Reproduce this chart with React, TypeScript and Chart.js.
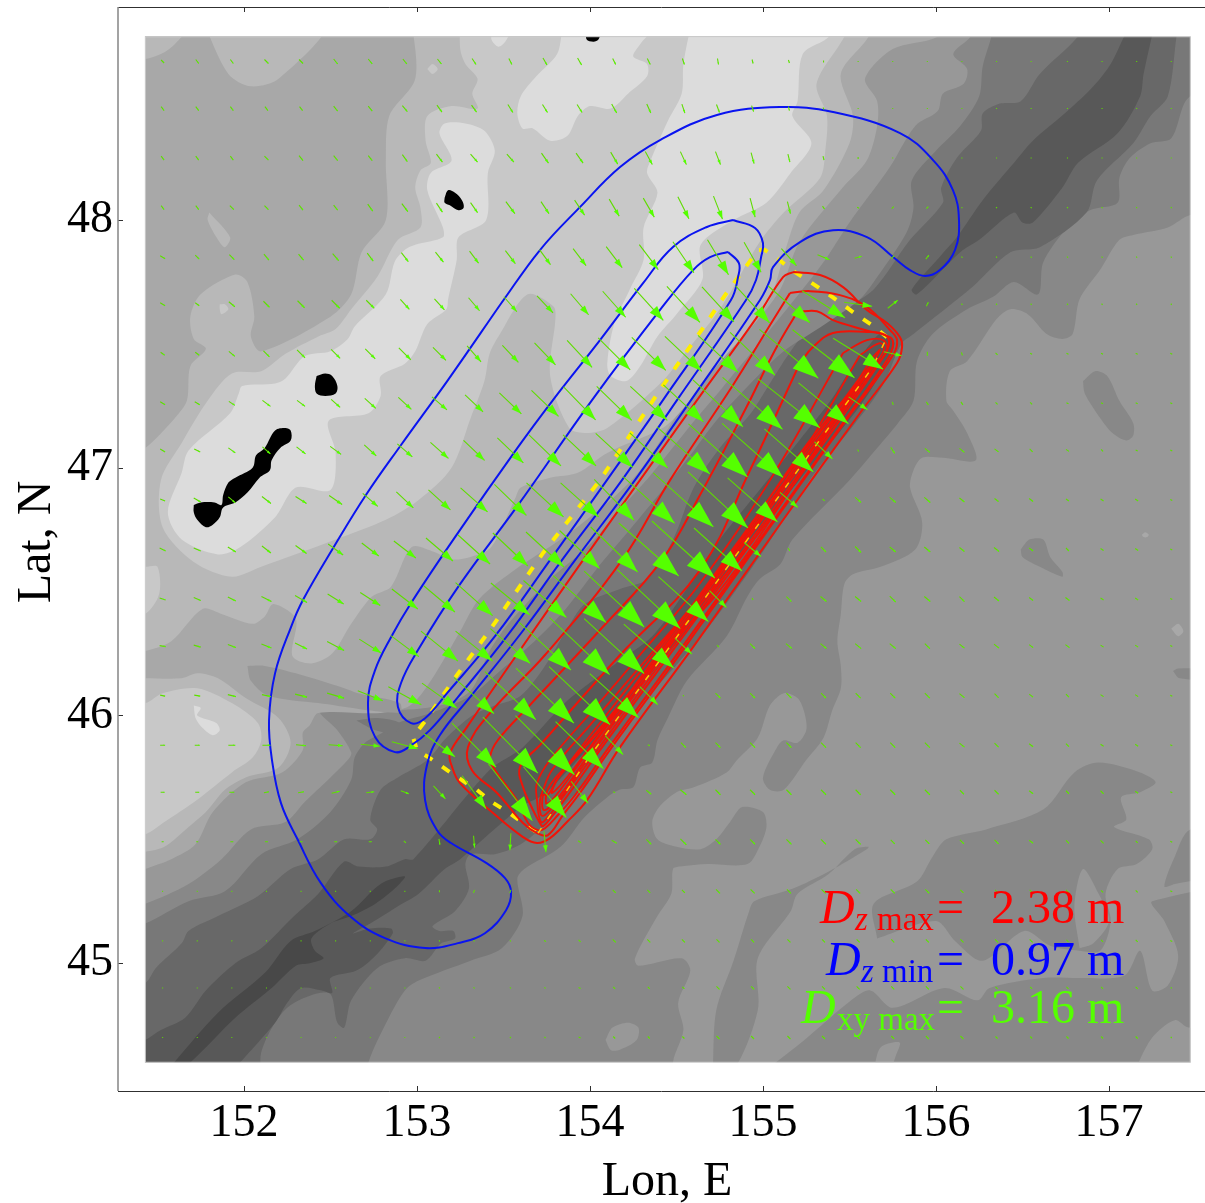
import React, { useEffect, useRef } from "react";
import { Chart, registerables } from "chart.js";

Chart.register(...registerables);

// ---------- axes ----------
const LON_MIN = 151.272, LON_MAX = 157.555, LAT_MIN = 44.484, LAT_MAX = 48.86;
const MAP_W = 151.43, MAP_E = 157.47, MAP_S = 44.6, MAP_N = 48.74;
const FAR_W = 149.5, FAR_E = 158.5, FAR_S = 43.5, FAR_N = 50;
const SERIF = '"Liberation Serif"';

// ---------- bathymetry bands, outline lists of lon,lat ----------
const greys = { L0: "#484848", L1: "#585858", L2: "#686868", L3: "#787878", L4: "#888888", L5: "#989898", L6: "#a8a8a8", L7: "#b8b8b8", L8: "#c8c8c8", L9: "#dcdcdc" };
const HULL_SE = [FAR_W, FAR_S, FAR_W, FAR_N, FAR_E, FAR_N];

const front4 = [157.87,48.06,157.47,48.02,157.34,47.97,157.14,47.94,157.06,47.92,156.95,47.80,156.83,47.68,156.79,47.54,156.73,47.52,156.64,47.54,156.53,47.62,156.43,47.64,156.35,47.60,156.18,47.43,156.08,47.39,156.06,47.27,156.10,47.23,156.18,47.14,156.23,47.03,156.04,47.04,155.92,47.04,155.87,46.99,155.85,46.92,155.92,46.78,155.88,46.67,155.68,46.60,155.52,46.57,155.47,46.53,155.45,46.41,155.43,46.30,155.45,46.20,155.45,46.11,155.40,46.02,155.35,45.91,155.25,45.82,155.12,45.70,155.04,45.70,155.00,45.75,155.08,45.87,155.12,45.90,155.20,45.89,155.25,45.94,155.24,46.01,155.20,46.07,155.12,46.09,155.04,46.04,154.97,45.91,154.85,45.82,154.79,45.77,154.60,45.71,154.50,45.69,154.40,45.63,154.36,45.57,154.39,45.50,154.50,45.47,154.64,45.46,154.73,45.50,154.81,45.57,154.88,45.63,155.00,45.61,155.02,45.55,154.98,45.47,154.91,45.40,154.68,45.40,154.52,45.39,154.48,45.38,154.47,45.28,154.39,45.19,154.26,45.02,154.28,44.99,154.53,45.02,154.58,44.97,154.51,44.84,154.54,44.73,154.48,44.60,154.48,44.41];
const band4 = [154.71,44.57,154.73,44.81,154.83,45.01,154.92,45.21,154.95,45.25,155.17,45.30,155.38,45.37,155.60,45.46,155.61,45.47,155.53,45.46,155.38,45.36,155.20,45.28,155.16,45.21,154.97,45.02,154.97,44.81,154.83,44.57];
const upper4 = [155.66,45.10,155.64,45.24,155.89,45.33,155.98,45.43,156.06,45.50,156.29,45.54,156.62,45.62,156.80,45.77,156.94,45.81,157.18,45.77,157.27,45.73,157.18,45.69,157.07,45.67,157.10,45.58,157.03,45.55,157.23,45.50,157.25,45.46,157.16,45.40,157.05,45.38,156.98,45.28,157.01,45.17,156.95,45.05,156.83,45.05,156.66,45.07,156.51,45.13,156.27,45.01,156.11,45.09,156.00,45.17];
const lower4 = [155.02,44.57,155.24,44.69,155.51,44.85,155.62,44.89,155.75,44.82,156.05,44.90,156.24,44.85,156.31,44.90,156.62,44.94,156.85,44.94,157.09,44.95,157.18,45.05,157.25,44.89,157.34,44.91,157.40,45.03,157.32,45.17,157.25,45.25,157.87,45.27,157.87,44.41];
const edge4 = [157.87,45.58,157.47,45.54,157.38,45.43,157.32,45.31,157.38,45.32,157.87,45.40];
const spot4a = [156.85,47.35,156.86,47.30,156.95,47.20,157.02,47.14,157.10,47.11,157.14,47.13,157.14,47.18,157.06,47.27,156.99,47.37,156.92,47.39];
const spot4b = [156.49,46.67,156.54,46.71,156.62,46.71,156.66,46.64,156.73,46.58,156.73,46.56,156.60,46.60,156.50,46.64];
const spot4c = [157.37,46.18,157.40,46.19,157.87,46.18,157.87,46.13,157.41,46.15];
const spots5 = [
  [154.09,44.69,154.13,44.74,154.22,44.76,154.28,44.74,154.27,44.69,154.17,44.65,154.12,44.65],
  [156.83,45.06,156.80,45.23,156.85,45.38,156.94,45.28,157.00,45.17,156.91,45.08],
  [155.64,44.57,155.68,44.66,155.79,44.68,155.77,44.63,155.73,44.57],
  [157.15,44.57,157.25,44.70,157.38,44.77,157.46,44.74,157.87,44.74,157.87,44.57],
];
const spots6 = [
  [157.19,46.73,157.21,46.74,157.23,46.73,157.22,46.72,157.20,46.72],
  [157.36,46.35,157.40,46.37,157.43,46.34,157.40,46.32],
];
const front3 = [157.87,48.54,157.47,48.50,157.36,48.33,157.24,48.31,157.12,48.25,157.06,48.17,157.05,48.07,156.89,48.04,156.76,47.97,156.62,47.83,156.59,47.70,156.45,47.75,156.33,47.69,156.18,47.64,155.98,47.54,155.89,47.43,155.87,47.27,155.78,47.18,155.66,47.08,155.50,46.95,155.17,46.71,155.10,46.61,154.98,46.55,154.91,46.48,154.79,46.32,154.56,46.14,154.45,45.99,154.39,45.90,154.36,45.81,154.29,45.79,154.25,45.71,154.17,45.70,154.10,45.67,153.97,45.59,153.83,45.47,153.62,45.38,153.58,45.34,153.61,45.19,153.49,45.06,153.31,45.01,153.01,44.93,152.93,44.89,152.83,44.77,152.72,44.60,152.67,44.41];
const front2 = [157.44,48.97,157.39,48.74,157.34,48.50,157.24,48.42,157.14,48.31,156.93,48.16,156.87,48.03,156.60,47.89,156.43,47.87,156.21,47.73,155.87,47.54,155.80,47.50,155.69,47.33,155.50,47.15,155.31,46.99,155.16,46.83,154.93,46.59,154.69,46.36,154.52,46.22,154.29,46.04,154.12,45.88,154.00,45.74,153.88,45.66,153.74,45.56,153.60,45.48,153.45,45.44,153.31,45.44,153.28,45.40,153.30,45.30,153.22,45.21,153.09,45.15,153.13,45.13,153.21,45.13,153.22,45.10,153.14,45.08,153.05,45.01,152.93,45.02,152.77,44.98,152.62,44.85,152.58,44.74,152.54,44.76,152.49,44.88,152.25,44.82,152.10,44.64,152.08,44.41];
const trough1 = [151.94,44.57,152.18,44.76,152.25,44.84,152.33,44.90,152.45,44.89,152.51,44.88,152.50,44.94,152.65,44.97,152.76,45.03,152.86,45.12,152.85,45.14,152.73,45.14,152.63,45.12,152.73,45.16,152.89,45.23,153.01,45.28,153.16,45.38,153.25,45.42,153.60,45.63,153.75,45.69,154.13,45.98,154.39,46.20,154.58,46.36,154.75,46.53,154.98,46.75,155.21,46.95,155.45,47.15,155.62,47.31,155.76,47.50,155.68,47.54,155.62,47.50,155.50,47.39,155.39,47.27,155.21,47.11,154.98,46.91,154.75,46.71,154.52,46.47,154.36,46.32,154.13,46.20,153.87,46.06,153.61,45.87,153.42,45.78,152.98,45.42,152.93,45.42,152.82,45.39,152.66,45.39,152.58,45.41,152.43,45.28,152.29,45.19,152.10,45.06,151.95,45.00,151.78,44.89,151.66,44.78,151.52,44.73,151.43,44.69,151.28,44.65,151.28,44.57];
const stripe1 = [157.27,48.81,157.20,48.59,157.18,48.50,157.05,48.35,156.82,48.23,156.73,48.13,156.56,47.99,156.50,47.99,156.45,48.03,156.25,47.92,156.14,47.87,155.89,47.70,155.86,47.72,156.02,47.85,156.12,47.93,156.27,48.08,156.45,48.23,156.56,48.32,156.76,48.44,156.91,48.54,157.01,48.63,157.15,48.81];
const trough0 = [151.56,44.57,151.85,44.80,152.12,44.96,152.27,45.09,152.41,45.13,152.62,45.21,152.79,45.32,152.93,45.35,152.87,45.30,152.76,45.24,152.62,45.19,152.50,45.16,152.39,45.10,152.41,45.05,152.46,45.02,152.38,45.00,152.30,44.99,152.16,44.90,151.95,44.78,151.64,44.57];
const slope3 = [151.28,44.89,151.43,44.92,151.49,44.98,151.64,45.08,151.68,45.13,151.85,45.19,152.08,45.27,152.27,45.38,152.43,45.42,152.58,45.50,152.73,45.50,152.77,45.54,152.73,45.58,152.79,45.70,152.89,45.75,153.06,45.82,153.17,45.91,153.32,46.00,153.45,46.04,153.60,46.08,153.74,46.20,153.86,46.34,153.97,46.45,154.17,46.51,154.33,46.55,154.48,46.71,154.60,46.92,154.75,47.08,154.93,47.22,155.04,47.34,155.17,47.48,155.29,47.58,155.46,47.64,155.64,47.72,155.85,47.92,156.04,48.07,156.03,48.13,156.12,48.25,156.26,48.36,156.27,48.43,156.37,48.47,156.49,48.48,156.60,48.59,156.82,48.74,156.86,48.81,156.86,FAR_N,FAR_W,FAR_N,FAR_W,44.89];
const slope4 = [151.28,45.13,151.43,45.16,151.68,45.25,151.89,45.29,152.10,45.44,152.31,45.50,152.50,45.61,152.62,45.74,152.64,45.83,152.70,45.89,152.80,45.93,152.89,45.97,153.08,46.01,153.31,46.08,153.48,46.18,153.68,46.30,153.86,46.43,154.06,46.61,154.23,46.75,154.42,46.91,154.58,47.05,154.73,47.19,154.97,47.37,155.12,47.47,155.36,47.58,155.56,47.68,155.65,47.76,155.83,47.95,155.87,48.05,155.86,48.16,156.00,48.28,156.14,48.38,156.25,48.50,156.27,48.62,156.32,48.74,156.34,48.81,156.34,FAR_N,FAR_W,FAR_N,FAR_W,45.13];
const slope5 = [151.28,45.21,151.43,45.24,151.68,45.32,151.87,45.42,152.04,45.54,152.24,45.57,152.35,45.65,152.50,45.75,152.60,45.82,152.62,45.85,152.54,45.94,152.43,46.02,152.47,46.05,152.66,46.03,152.84,46.02,153.13,46.04,153.31,46.10,153.42,46.26,153.54,46.38,153.77,46.55,154.00,46.69,154.17,46.83,154.35,46.97,154.58,47.17,154.75,47.31,154.95,47.48,155.16,47.66,155.36,47.84,155.50,47.99,155.73,48.21,155.88,48.38,156.01,48.44,156.04,48.51,156.16,48.55,156.18,48.61,156.10,48.67,156.20,48.74,156.25,48.81,156.25,FAR_N,FAR_W,FAR_N,FAR_W,45.21];
const slope6 = [151.28,45.33,151.43,45.38,151.58,45.42,151.72,45.48,151.82,45.61,152.01,45.73,152.22,45.77,152.34,45.86,152.34,45.93,152.38,45.96,152.43,46.01,152.79,46.01,152.96,46.04,153.08,46.14,153.25,46.34,153.36,46.47,153.57,46.59,153.83,46.71,154.12,46.87,154.29,46.99,154.52,47.23,154.69,47.39,154.90,47.54,155.10,47.72,155.21,47.91,155.46,48.13,155.60,48.24,155.66,48.38,155.66,48.48,155.59,48.57,155.75,48.69,156.01,48.74,156.05,48.81,156.05,FAR_N,FAR_W,FAR_N,FAR_W,45.33];
const tongue5 = [152.02,46.20,152.12,46.20,152.30,46.17,152.58,46.11,152.66,46.09,152.90,46.05,152.90,46.01,152.43,46.05,152.14,46.08,152.04,46.14];
const tongue3 = [152.65,45.98,152.77,45.99,152.90,45.97,152.87,45.93,152.76,45.94];
const shelf7 = [152.97,48.81,152.99,48.57,152.84,48.42,152.82,48.24,152.82,48.00,152.68,47.87,152.62,47.70,152.50,47.61,152.10,47.47,152.04,47.53,152.06,47.61,152.02,47.75,151.95,47.78,151.75,47.70,151.69,47.61,151.71,47.52,151.78,47.48,151.69,47.41,151.67,47.27,151.60,47.20,151.43,47.08,151.28,47.03,151.28,46.24,151.43,46.26,151.58,46.30,151.76,46.43,151.87,46.41,152.05,46.37,152.12,46.40,152.17,46.45,152.30,46.39,152.28,46.24,152.39,46.21,152.51,46.25,152.62,46.37,152.74,46.48,152.85,46.52,152.97,46.68,153.10,46.66,153.20,46.63,153.31,46.64,153.43,46.68,153.57,46.88,153.60,46.92,153.77,46.96,153.93,46.98,154.10,47.06,154.42,47.16,154.54,47.24,154.73,47.41,154.88,47.53,155.04,47.68,155.13,47.88,155.21,48.03,155.35,48.12,155.50,48.31,155.52,48.42,155.45,48.59,155.61,48.74,155.63,48.81];
const shelf8 = [153.25,48.81,153.25,48.69,153.28,48.63,153.35,48.57,153.32,48.51,153.35,48.45,153.20,48.46,153.06,48.42,153.05,48.32,153.08,48.23,153.02,48.20,152.99,48.13,153.02,48.05,153.02,47.97,152.89,47.92,152.77,47.77,152.62,47.64,152.53,47.56,152.43,47.53,152.24,47.46,152.10,47.39,151.93,47.38,151.79,47.27,151.64,47.10,151.52,46.95,151.53,46.76,151.71,46.62,151.93,46.56,152.10,46.60,152.53,46.71,152.82,46.79,153.01,46.87,153.20,47.00,153.31,47.20,153.39,47.35,153.42,47.46,153.48,47.54,153.64,47.70,153.79,47.65,153.80,47.60,153.77,47.37,153.88,47.16,153.98,47.14,154.10,47.16,154.42,47.35,154.58,47.49,154.73,47.62,154.83,47.73,154.98,47.91,155.12,48.03,155.33,48.17,155.36,48.28,155.37,48.42,155.31,48.55,155.47,48.74,155.50,48.81];
const shelf9a = [151.97,47.30,151.99,47.33,152.18,47.34,152.24,47.36,152.35,47.45,152.50,47.47,152.60,47.52,152.64,47.57,152.82,47.70,152.87,47.83,152.93,47.88,152.99,47.90,153.15,47.93,153.15,47.97,153.06,48.12,153.08,48.19,153.20,48.24,153.13,48.35,153.16,48.39,153.28,48.39,153.39,48.36,153.45,48.28,153.41,48.19,153.40,48.00,153.24,47.93,153.23,47.84,153.18,47.68,153.17,47.64,153.06,47.58,152.99,47.47,152.93,47.42,152.79,47.37,152.79,47.29,152.72,47.22,152.49,47.19,152.53,47.06,152.50,46.91,152.30,46.92,152.18,46.80,151.98,46.68,151.85,46.65,151.64,46.71,151.56,46.82,151.64,46.98,151.68,47.07,151.92,47.22];
const shelf9b = [154.59,48.81,154.54,48.63,154.53,48.51,154.45,48.40,154.35,48.24,154.33,48.19,154.39,48.11,154.31,47.97,154.31,47.84,154.23,47.72,154.14,47.58,154.10,47.42,154.12,47.37,154.21,47.35,154.29,47.41,154.39,47.53,154.50,47.62,154.65,47.76,154.64,47.90,154.83,48.00,155.02,48.07,155.16,48.19,155.28,48.31,155.17,48.42,155.20,48.48,155.23,48.67,155.38,48.74,155.40,48.81];
const shelf9c = [153.84,48.77,153.81,48.67,153.69,48.58,153.60,48.50,153.58,48.43,153.61,48.37,153.67,48.37,153.77,48.32,153.87,48.34,153.93,48.42,154.00,48.46,154.12,48.45,154.22,48.51,154.33,48.58,154.33,48.63,154.25,48.66,154.29,48.71,154.35,48.77];
const shelf9d = [153.44,48.77,153.54,48.77,153.51,48.72,153.47,48.70,153.43,48.73];
const spots7 = [
  [151.28,48.77,151.66,48.77,151.60,48.71,151.52,48.67,151.43,48.65,151.28,48.65],
  [151.77,48.79,151.91,48.59,152.04,48.54,152.20,48.57,152.47,48.79],
  [151.80,48.03,151.92,47.93,151.89,47.89,151.85,47.92,151.79,48.00],
  [151.28,46.15,151.43,46.15,151.64,46.15,151.73,46.17,151.85,46.15,152.01,46.07,152.20,45.99,152.27,45.89,152.20,45.79,152.01,45.75,151.89,45.70,151.78,45.61,151.68,45.55,151.54,45.47,151.43,45.45,151.28,45.44],
];
const spots8 = [
  [151.28,46.60,151.43,46.60,151.50,46.60,151.51,46.49,151.43,46.41,151.28,46.39],
  [151.86,47.66,151.89,47.66,151.91,47.64,151.87,47.62,151.86,47.64],
  [153.06,48.61,153.09,48.63,153.12,48.61,153.09,48.59],
  [151.28,46.05,151.43,46.05,151.53,46.09,151.73,46.11,151.93,46.05,152.08,45.97,152.10,45.90,152.05,45.83,151.93,45.77,151.73,45.66,151.54,45.57,151.43,45.52,151.28,45.50],
];
const spot9e = [151.71,46.04,151.75,46.03,151.73,46.00,151.84,45.97,151.86,45.94,151.82,45.92,151.76,45.95,151.72,45.99];

// ---------- islands ----------
const islands = [
  [151.71,46.85,151.75,46.86,151.83,46.86,151.87,46.85,151.88,46.89,151.91,46.94,151.95,46.96,152.05,47.00,152.07,47.05,152.12,47.08,152.18,47.15,152.24,47.16,152.27,47.15,152.27,47.11,152.21,47.08,152.16,47.03,152.15,46.99,152.09,46.96,152.02,46.90,151.95,46.86,151.88,46.84,151.86,46.80,151.82,46.77,151.78,46.76,151.73,46.79,151.71,46.82],
  [152.42,47.37,152.47,47.38,152.51,47.37,152.54,47.33,152.53,47.30,152.47,47.29,152.42,47.30,152.41,47.33],
  [153.16,48.09,153.18,48.12,153.22,48.11,153.26,48.08,153.27,48.05,153.24,48.04,153.19,48.06,153.16,48.07],
  [153.98,48.77,154.06,48.77,154.05,48.73,154.02,48.72,153.98,48.73],
];

// ---------- vertical displacement isolines ----------
const blueContours = [
  [153.480,47.657,153.711,47.879,153.942,48.052,154.174,48.214,154.405,48.323,154.734,48.424,155.098,48.456,155.405,48.436,155.792,48.351,155.983,48.242,156.098,48.121,156.133,48.000,156.110,47.879,156.023,47.798,155.937,47.774,155.850,47.798,155.752,47.851,155.601,47.931,155.405,47.959,155.214,47.911,155.058,47.810,155.041,47.758,154.983,47.677,154.584,47.273,154.260,46.950,153.914,46.627,153.607,46.337,153.307,46.074,153.133,45.921,153.058,45.800,153.047,45.658,153.116,45.537,153.197,45.485,153.393,45.408,153.509,45.343,153.544,45.287,153.515,45.214,153.393,45.121,153.237,45.081,153.047,45.061,152.815,45.101,152.619,45.186,152.445,45.323,152.312,45.497,152.214,45.646,152.162,45.820,152.145,45.981,152.180,46.171,152.272,46.357,152.341,46.466,152.526,46.688,152.705,46.890,152.908,47.092,153.179,47.354],
  [154.827,48.000,154.676,47.972,154.480,47.891,154.307,47.745,154.058,47.515,153.786,47.273,153.584,47.083,153.220,46.720,152.966,46.454,152.850,46.316,152.758,46.183,152.717,46.050,152.758,45.913,152.873,45.852,152.960,45.876,153.075,45.941,153.237,46.074,153.526,46.325,153.838,46.627,154.185,46.950,154.503,47.273,154.902,47.677,154.960,47.758,154.989,47.850,155.000,47.907,154.954,47.968],
  [154.798,47.871,154.694,47.850,154.596,47.798,154.405,47.637,154.012,47.273,153.584,46.849,153.237,46.518,153.006,46.264,152.908,46.131,152.890,46.034,152.966,45.969,153.047,45.989,153.174,46.090,153.457,46.325,153.769,46.627,154.098,46.950,154.422,47.273,154.815,47.677,154.856,47.770,154.861,47.826],
];
const redContours = [
  [155.174,47.790,155.330,47.778,155.463,47.729,155.601,47.637,155.717,47.584,155.792,47.527,155.804,47.487,155.775,47.423,155.561,47.221,155.116,46.789,154.596,46.276,154.174,45.872,153.983,45.658,153.867,45.570,153.769,45.505,153.694,45.485,153.613,45.509,153.440,45.606,153.249,45.727,153.203,45.792,153.191,45.848,153.289,45.953,153.555,46.223,153.960,46.627,154.289,46.950,154.619,47.273,154.965,47.608,155.116,47.770],
  [155.156,47.705,155.272,47.713,155.445,47.697,155.601,47.649,155.734,47.556,155.775,47.515,155.752,47.455,155.503,47.213,155.070,46.789,154.549,46.276,154.127,45.872,153.942,45.687,153.844,45.598,153.757,45.517,153.694,45.525,153.613,45.566,153.463,45.687,153.318,45.779,153.295,45.872,153.422,46.010,153.740,46.244,154.185,46.627,154.463,46.950,154.827,47.334,155.041,47.576],
  [155.197,47.628,155.312,47.632,155.405,47.596,155.590,47.556,155.734,47.527,155.752,47.495,155.717,47.435,155.474,47.192,155.041,46.769,154.520,46.264,154.098,45.860,153.914,45.679,153.815,45.598,153.740,45.545,153.700,45.537,153.642,45.566,153.578,45.658,153.440,45.792,153.422,45.832,153.468,45.901,153.653,46.042,154.058,46.345,154.416,46.627,154.636,46.890,154.896,47.233,155.070,47.475],
  [155.214,47.423,155.289,47.487,155.405,47.544,155.601,47.548,155.705,47.536,155.728,47.495,155.676,47.427,155.445,47.192,155.000,46.761,154.480,46.264,154.058,45.860,153.873,45.679,153.786,45.598,153.729,45.553,153.711,45.566,153.671,45.618,153.613,45.711,153.596,45.792,153.711,45.880,154.174,46.244,154.636,46.587,154.925,46.990],
  [155.463,47.463,155.601,47.515,155.694,47.515,155.717,47.475,155.653,47.410,155.416,47.180,154.971,46.748,154.451,46.252,154.029,45.848,153.844,45.671,153.757,45.590,153.717,45.570,153.694,45.658,153.694,45.727,153.769,45.820,154.018,46.022,154.289,46.244,154.636,46.534,155.041,46.950],
  [155.561,47.455,155.676,47.503,155.699,47.475,155.630,47.402,155.387,47.168,154.937,46.736,154.422,46.240,154.000,45.836,153.827,45.666,153.740,45.598,153.717,45.598,153.711,45.658,153.729,45.699,153.781,45.780,154.000,45.961,154.347,46.244,154.694,46.526,155.098,46.910],
  [155.630,47.443,155.676,47.475,155.607,47.394,155.359,47.152,154.908,46.724,154.393,46.224,153.971,45.820,153.804,45.658,153.734,45.618,153.729,45.679,153.757,45.679,153.815,45.747,154.058,45.941,154.434,46.264,154.752,46.506,155.156,46.910],
  [155.648,47.427,155.572,47.374,155.330,47.140,154.879,46.708,154.364,46.211,153.942,45.808,153.781,45.658,153.746,45.646,153.769,45.719,153.914,45.832,154.289,46.143,154.636,46.446,155.012,46.769,155.387,47.152],
  [155.607,47.386,155.301,47.124,154.850,46.696,154.335,46.195,153.914,45.792,153.781,45.687,153.827,45.759,154.289,46.175,154.809,46.647,155.272,47.112],
];
const faultOutline = [155.717,47.527,155.630,47.576,155.544,47.616,155.457,47.661,155.370,47.705,155.283,47.745,155.185,47.790,155.110,47.830,155.012,47.879,154.971,47.879,154.908,47.818,154.781,47.697,154.653,47.564,154.416,47.326,154.174,47.071,154.058,46.950,153.729,46.656,153.607,46.534,153.422,46.345,153.231,46.163,153.047,45.977,152.977,45.913,153.000,45.860,153.075,45.828,153.174,45.779,153.260,45.739,153.347,45.699,153.434,45.650,153.526,45.610,153.613,45.566,153.700,45.525];
const faultBand = [153.700,45.525,154.000,45.836,154.422,46.240,154.937,46.736,155.387,47.168,155.630,47.402,155.717,47.527];

// ---------- horizontal displacement field ----------
const gridLon = [151.53,151.73,151.93,152.13,152.33,152.53,152.73,152.93,153.13,153.33,153.54,153.74,153.94,154.14,154.34,154.54,154.74,154.94,155.15,155.35,155.55,155.75,155.95,156.15,156.35,156.55,156.76,156.96,157.16,157.36];
const gridLat = [48.64,48.45,48.25,48.05,47.85,47.66,47.46,47.26,47.07,46.87,46.67,46.47,46.28,46.08,45.88,45.69,45.49,45.29,45.09,44.90,44.70];
const DEG_LON_PER_UNIT = 1 / 173, DEG_LAT_PER_UNIT = 1 / 247.7;
const eastward = [
  [3,3,3,4,4,4,4,4,4,4,3,4,4,3,3,2,1,1,1,0,0,0,0,0,0,0,0,0,0,0],
  [3,3,3,3,3,4,4,5,5,5,5,5,5,5,4,3,3,2,1,1,0,0,0,0,0,0,0,0,0,0],
  [3,3,3,4,4,4,4,5,6,7,7,7,7,7,7,6,5,3,2,1,0,0,0,0,0,0,0,0,0,0],
  [3,3,4,4,4,4,5,6,6,7,9,8,10,10,11,11,9,5,3,2,2,2,2,1,1,1,1,1,1,1],
  [5,4,5,5,5,6,6,7,8,9,10,11,13,16,19,21,21,17,15,12,7,3,3,1,1,1,1,1,1,1],
  [5,4,6,6,7,8,8,9,10,11,13,16,18,23,29,33,32,34,42,43,28,10,2,1,1,1,1,1,1,1],
  [4,4,6,6,8,9,10,12,13,14,16,21,25,32,34,37,40,45,59,62,50,18,0,1,2,2,2,2,2,2],
  [5,5,6,8,8,9,11,13,15,18,22,27,32,35,37,40,50,60,62,50,19,1,2,2,2,2,2,2,2,2],
  [5,6,7,8,9,11,12,15,18,21,26,32,33,37,38,53,59,61,49,18,1,4,5,5,4,3,3,2,2,2],
  [5,7,7,9,11,13,15,17,22,27,32,37,38,40,52,60,60,50,18,2,6,6,6,5,4,4,3,3,3,2],
  [6,7,8,9,11,15,17,22,27,32,35,38,40,47,60,63,48,17,2,5,6,6,6,5,5,4,3,3,3,2],
  [6,7,8,10,12,16,20,26,31,37,39,43,53,60,63,50,17,1,5,6,6,6,6,5,5,4,4,3,3,2],
  [6,7,8,10,12,17,22,28,37,37,40,52,60,60,50,17,2,5,6,6,6,6,5,5,5,4,4,3,3,2],
  [5,6,8,9,12,17,25,33,35,40,51,58,61,49,18,1,5,5,5,5,5,5,5,5,4,4,3,3,3,2],
  [5,5,7,8,10,14,19,26,31,44,55,59,48,18,2,5,5,5,5,5,5,5,5,5,4,4,3,3,3,2],
  [4,4,5,5,6,8,8,8,12,24,44,43,17,2,5,6,5,5,5,5,5,5,5,4,4,4,3,3,3,2],
  [2,2,3,3,3,3,3,2,1,1,-1,2,3,5,5,6,5,5,5,5,5,4,4,4,4,4,3,3,2,2],
  [1,1,1,1,1,1,1,1,0,-1,-1,1,2,3,3,3,4,4,4,4,4,4,4,3,3,3,3,2,2,2],
  [1,1,1,1,1,1,1,1,1,1,1,2,2,3,3,3,3,3,3,3,3,3,3,3,3,3,2,2,2,2],
  [1,1,1,1,1,1,1,1,1,1,1,1,2,2,2,2,3,3,3,3,3,3,3,3,2,2,2,2,2,1],
  [1,1,1,1,1,1,1,1,1,1,1,1,2,2,2,2,3,3,3,3,3,3,3,3,2,2,2,2,2,1],
];
const southward = [
  [3,4,4,4,4,5,5,5,5,6,6,7,7,6,6,6,6,4,3,2,1,1,1,1,1,1,1,1,1,1],
  [4,4,4,4,4,5,5,6,7,7,8,8,8,9,9,9,8,6,4,2,1,1,1,1,1,1,1,1,1,1],
  [4,4,4,4,5,5,5,7,8,8,8,10,10,12,13,13,13,11,8,4,2,1,1,1,1,1,1,1,1,1],
  [4,4,4,4,5,5,7,8,9,10,12,12,15,17,19,22,23,19,12,3,1,-2,-2,0,1,1,1,1,1,1],
  [3,4,5,6,6,7,8,9,10,12,13,15,17,21,25,31,35,30,17,5,-2,-3,-4,1,1,1,1,1,1,1],
  [3,3,5,6,7,8,8,10,11,13,15,17,21,26,32,36,35,37,37,27,4,-8,-4,1,1,1,1,1,1,1],
  [3,3,5,6,8,9,10,12,13,16,17,22,27,32,33,35,37,43,49,48,31,4,4,3,2,1,1,1,1,1],
  [3,3,4,6,6,8,10,12,13,17,21,26,33,34,34,37,47,52,49,41,13,3,3,3,2,2,1,1,1,1],
  [3,3,5,7,7,8,11,13,16,20,25,31,31,34,35,47,53,54,43,17,2,6,4,4,3,3,2,2,1,1],
  [2,4,6,7,7,9,13,16,20,24,31,34,34,41,47,54,56,44,15,2,5,5,5,4,3,3,2,2,2,1],
  [3,3,5,7,8,11,13,17,23,29,33,35,38,45,53,57,43,14,3,5,6,5,5,4,4,3,3,2,2,1],
  [2,3,4,5,7,10,13,20,26,33,32,37,47,56,59,45,17,2,5,5,5,6,5,5,4,3,3,2,2,1],
  [1,2,3,4,6,9,14,21,30,30,35,48,57,55,44,16,2,5,5,5,5,5,5,4,4,3,3,2,2,1],
  [1,1,2,2,3,5,10,18,25,36,48,55,58,44,18,1,5,5,5,5,5,5,5,4,4,3,3,2,2,1],
  [0,0,0,0,1,1,2,7,23,44,56,59,47,19,1,5,5,5,5,5,5,5,5,4,4,3,3,2,2,1],
  [0,0,0,-1,-1,-2,-1,3,13,33,57,51,22,1,4,5,5,5,5,5,5,5,5,4,4,3,3,3,2,1],
  [0,0,0,0,0,0,0,2,6,12,17,21,2,3,5,6,5,5,5,5,5,4,4,4,4,3,3,3,2,1],
  [0,0,0,0,0,0,0,0,2,3,3,1,1,3,3,3,4,4,4,4,4,4,4,3,3,3,3,2,2,1],
  [0,0,0,0,0,0,0,0,1,1,1,1,2,3,3,3,3,3,3,3,3,3,3,3,3,3,2,2,2,1],
  [0,0,0,0,0,0,0,0,1,1,1,1,1,2,2,2,3,3,3,3,3,3,3,3,2,2,2,2,2,1],
  [0,0,0,0,0,0,0,0,1,1,1,1,1,2,2,2,3,3,3,3,3,3,3,3,2,2,2,2,2,1],
];

// ---------- texts ----------
const xTitle = "Lon, E";
const yTitle = "Lat, N";
const legendSymbol = "D";
const legendIndex = ["z", "z", ""];
const legendTag = ["max", "min", "xy max"];
const legendValue = ["2.38 m", "0.97 m", "3.16 m"];
const legendColor = ["#ff0000", "#0000ff", "#55ff00"];

// ---------- helpers ----------
const toPoints = (flat: number[], close = true) => {
  const pts: { x: number; y: number }[] = [];
  for (let i = 0; i < flat.length; i += 2) pts.push({ x: flat[i], y: flat[i + 1] });
  if (close && pts.length) pts.push({ ...pts[0] });
  return pts;
};
const area = (flat: number[], color: string, tension = 0.3) => ({
  data: toPoints(flat), showLine: true, fill: "shape", backgroundColor: color,
  borderWidth: 0, borderColor: color, tension, pointRadius: 0,
});
const curve = (flat: number[], color: string, width: number, tension = 0.4, dash: number[] = [], close = true) => ({
  data: toPoints(flat, close), showLine: true, fill: false, borderColor: color, borderWidth: width,
  tension, borderDash: dash, pointRadius: 0,
});

function arrowDatasets() {
  const gap = { x: NaN, y: NaN };
  const shafts: any[] = [];
  const heads: any[] = [];
  gridLat.forEach((lat, r) => gridLon.forEach((lon, c) => {
    const e = eastward[r][c], s = southward[r][c];
    const tx = lon + (e / 2) * DEG_LON_PER_UNIT, ty = lat - (s / 2) * DEG_LAT_PER_UNIT;
    const ax = lon - (e / 2) * DEG_LON_PER_UNIT, ay = lat + (s / 2) * DEG_LAT_PER_UNIT;
    shafts.push({ x: ax, y: ay }, { x: tx, y: ty }, gap);
    const bx = e * 0.66 - e / 2, by = s * 0.66 - s / 2;
    const wx = -s * 0.115, wy = e * 0.115;
    heads.push(
      { x: tx, y: ty },
      { x: lon + (bx + wx) * DEG_LON_PER_UNIT, y: lat - (by + wy) * DEG_LAT_PER_UNIT },
      { x: lon + (bx - wx) * DEG_LON_PER_UNIT, y: lat - (by - wy) * DEG_LAT_PER_UNIT },
      gap,
    );
  }));
  return [
    { data: shafts, showLine: true, fill: false, borderColor: "#5fdc00", borderWidth: 1.1, tension: 0, pointRadius: 0, spanGaps: false },
    { data: heads, showLine: true, fill: "shape", backgroundColor: "#55ff00", borderWidth: 0, tension: 0, pointRadius: 0, spanGaps: false },
  ];
}

const mapClip = {
  id: "mapClip",
  beforeDatasetsDraw(chart: any) {
    const { ctx, scales: { x, y } } = chart;
    const l = x.getPixelForValue(MAP_W), r = x.getPixelForValue(MAP_E);
    const t = y.getPixelForValue(MAP_N), b = y.getPixelForValue(MAP_S);
    ctx.save();
    ctx.beginPath();
    ctx.rect(l, t, r - l, b - t);
    ctx.clip();
  },
  afterDatasetsDraw(chart: any) {
    const { ctx, scales: { x, y } } = chart;
    ctx.restore();
    const l = x.getPixelForValue(MAP_W), r = x.getPixelForValue(MAP_E);
    const t = y.getPixelForValue(MAP_N), b = y.getPixelForValue(MAP_S);
    ctx.save();
    ctx.strokeStyle = "#d0d0d0";
    ctx.lineWidth = 1;
    ctx.strokeRect(l, t, r - l, b - t);
    ctx.restore();
  },
};

const isWhole = (v: number) => Math.abs(v - Math.round(v)) < 1e-6;

const frame = {
  id: "frame",
  afterDraw(chart: any) {
    const { ctx, chartArea: a, scales: { x, y } } = chart;
    ctx.save();
    ctx.strokeStyle = "#303030";
    ctx.lineWidth = 1;
    ctx.beginPath();
    ctx.moveTo(a.left, a.top + 0.5); ctx.lineTo(a.right, a.top + 0.5);
    ctx.moveTo(a.left, a.bottom + 0.5); ctx.lineTo(a.right, a.bottom + 0.5);
    x.ticks.forEach((t: any) => {
      const p = Math.round(x.getPixelForValue(t.value)) + 0.5;
      const len = isWhole(t.value) ? 5 : 3;
      ctx.moveTo(p, a.top); ctx.lineTo(p, a.top + len);
      ctx.moveTo(p, a.bottom); ctx.lineTo(p, a.bottom - len);
    });
    y.ticks.forEach((t: any) => {
      const p = Math.round(y.getPixelForValue(t.value)) + 0.5;
      ctx.moveTo(a.left, p); ctx.lineTo(a.left + (isWhole(t.value) ? 5 : 3), p);
    });
    ctx.stroke();
    ctx.strokeStyle = "#8c8c8c";
    ctx.lineWidth = 1.6;
    ctx.beginPath();
    ctx.moveTo(a.left, a.top); ctx.lineTo(a.left, a.bottom);
    ctx.stroke();

    // axis titles
    ctx.fillStyle = "#000";
    ctx.font = `48px ${SERIF}`;
    ctx.textBaseline = "alphabetic";
    ctx.textAlign = "center";
    ctx.fillText(xTitle, 667, 1195);
    ctx.save();
    ctx.translate(50, 542);
    ctx.rotate(-Math.PI / 2);
    ctx.fillText(yTitle, 0, 0);
    ctx.restore();
    ctx.textAlign = "left";

    // legend block
    const baselines = [923, 975, 1023];
    const symbolX = [820, 826, 801];
    const tagX = [877, 882, 837];
    legendValue.forEach((val, i) => {
      ctx.fillStyle = legendColor[i];
      ctx.font = `italic 48px ${SERIF}`;
      ctx.fillText(legendSymbol, symbolX[i], baselines[i]);
      ctx.font = `italic 33px ${SERIF}`;
      if (legendIndex[i]) ctx.fillText(legendIndex[i], 855 + (i === 1 ? 6 : 0), baselines[i] + 7);
      ctx.font = `33px ${SERIF}`;
      ctx.fillText(legendTag[i], tagX[i], baselines[i] + 7);
      ctx.font = `48px ${SERIF}`;
      ctx.fillText("=", 937, baselines[i]);
      ctx.fillText(val, 991, baselines[i]);
    });
    ctx.restore();
  },
};

export default function App() {
  const ref = useRef<HTMLCanvasElement | null>(null);
  useEffect(() => {
    if (!ref.current) return;
    const { L0, L1, L2, L3, L4, L5, L6, L7, L8, L9 } = greys;
    const bottomToTop: any[] = [
      area([FAR_W, FAR_S, FAR_E, FAR_S, FAR_E, FAR_N, FAR_W, FAR_N], L5, 0),
      area([...front4, ...HULL_SE], L4),
      area(band4, L4), area(upper4, L4), area(lower4, L4), area(edge4, L4),
      area(spot4a, L4), area(spot4b, L4), area(spot4c, L4),
      ...spots5.map((s) => area(s, L5)),
      ...spots6.map((s) => area(s, L6)),
      area([...front3, ...HULL_SE], L3),
      area([...front2, FAR_W, FAR_S, FAR_W, FAR_N, 157.44, FAR_N], L2),
      area(trough1, L1), area(stripe1, L1), area(trough0, L0),
      area(slope3, L3), area(slope4, L4), area(tongue3, L3), area(slope5, L5), area(slope6, L6),
      area(tongue5, L5),
      area(shelf7, L7), area(shelf8, L8),
      ...spots7.map((s) => area(s, L7)),
      ...spots8.map((s) => area(s, L8)),
      area(shelf9a, L9), area(shelf9b, L9), area(shelf9c, L9), area(shelf9d, L9), area(spot9e, L9),
      ...islands.map((s) => area(s, "#000000", 0.35)),
      curve(faultOutline, "#ffee00", 4, 0, [9, 12], false),
      ...blueContours.map((c) => curve(c, "#0a14f0", 2)),
      ...redContours.map((c, i) => curve(c, "#f01408", i < 4 ? 2 : 1.8)),
      curve(faultBand, "#ffc800", 1.5, 0, [6, 11], false),
      ...arrowDatasets(),
    ];
    const chart = new Chart(ref.current, {
      type: "scatter",
      data: { datasets: bottomToTop.reverse() },
      options: {
        responsive: false,
        animation: false,
        events: [],
        layout: { padding: { top: 7, right: 0, bottom: 0, left: 0 } },
        plugins: { legend: { display: false }, tooltip: { enabled: false }, title: { display: false } },
        elements: { point: { radius: 0, hitRadius: 0 } },
        scales: {
          x: {
            type: "linear", min: LON_MIN, max: LON_MAX,
            grid: { display: false, drawTicks: false }, border: { display: false },
            ticks: {
              stepSize: 0.2, includeBounds: false, autoSkip: false, maxRotation: 0, minRotation: 0, padding: 5,
              color: "#000", font: { family: SERIF, size: 46 },
              callback: (v: any) => (isWhole(Number(v)) ? String(Math.round(Number(v))) : null),
            },
            afterFit: (s: any) => { s.height = 112; s.paddingLeft = 0; s.paddingRight = 0; },
          },
          y: {
            type: "linear", min: LAT_MIN, max: LAT_MAX,
            grid: { display: false, drawTicks: false }, border: { display: false },
            ticks: {
              stepSize: 0.2, includeBounds: false, autoSkip: false, padding: 5,
              color: "#000", font: { family: SERIF, size: 46 },
              callback: (v: any) => (isWhole(Number(v)) ? String(Math.round(Number(v))) : null),
            },
            afterFit: (s: any) => { s.width = 118; s.paddingTop = 0; s.paddingBottom = 0; },
          },
        },
      },
      plugins: [mapClip, frame],
    } as any);
    return () => chart.destroy();
  }, []);
  return (
    <div style={{ position: "fixed", left: 0, top: 0, width: 1205, height: 1203, background: "#fff" }}>
      <canvas ref={ref} width={1205} height={1203} style={{ display: "block", width: 1205, height: 1203 }} />
    </div>
  );
}
